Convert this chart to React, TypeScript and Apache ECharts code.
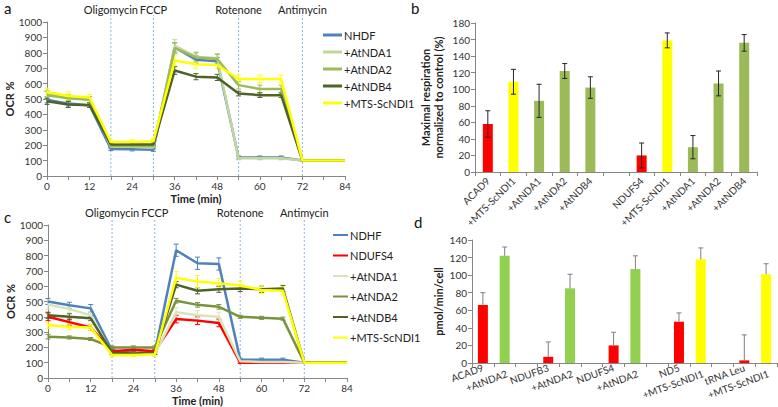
import React, { useEffect, useRef } from 'react';
import * as echarts from 'echarts';

const FONT = 'Lato';

const timePoints = [0, 6, 12, 18, 24, 30, 36, 42, 48, 54, 60, 66, 72, 78, 84];
const injectionTimes = [18, 30, 54, 72];
const injectionNames = ['Oligomycin', 'FCCP', 'Rotenone', 'Antimycin'];

// Panel a
const aNames = ['NHDF', '+AtNDA1', '+AtNDA2', '+AtNDB4', '+MTS-ScNDI1'];
const aColors = ['#4F81BD', '#C3D69B', '#9BBB59', '#4F6228', '#FFFF00'];
const aNHDF = [495, 470, 460, 175, 173, 170, 835, 755, 745, 120, 120, 120, 100, 100, 100];
const aNDA1 = [530, 510, 495, 190, 190, 185, 845, 775, 765, 115, 115, 115, 100, 100, 100];
const aNDA2 = [525, 505, 495, 195, 195, 195, 830, 770, 760, 590, 565, 565, 100, 100, 100];
const aNDB4 = [485, 465, 460, 205, 205, 205, 685, 645, 640, 535, 525, 525, 100, 100, 100];
const aMTS = [545, 520, 510, 220, 220, 225, 750, 725, 720, 630, 630, 630, 100, 100, 100];
const aErrNHDF = [20, 15, 15, 10, 10, 10, 30, 25, 25, 10, 10, 10, 0, 0, 0];
const aErrNDA1 = [25, 20, 20, 15, 15, 15, 40, 30, 30, 10, 10, 10, 0, 0, 0];
const aErrNDA2 = [25, 20, 20, 15, 15, 15, 35, 30, 30, 25, 25, 25, 0, 0, 0];
const aErrNDB4 = [20, 20, 15, 10, 10, 10, 25, 20, 20, 15, 15, 15, 0, 0, 0];
const aErrMTS = [25, 25, 20, 15, 15, 15, 30, 25, 25, 25, 25, 25, 0, 0, 0];

// Panel c
const cNames = ['NDHF', 'NDUFS4', '+AtNDA1', '+AtNDA2', '+AtNDB4', '+MTS-ScNDI1'];
const cColors = ['#4F81BD', '#FF0000', '#D7E4BD', '#77933C', '#4F6228', '#FFFF00'];
const cNDHF = [500, 475, 455, 180, 165, 165, 835, 750, 745, 120, 120, 120, 100, 100, 100];
const cNDUFS4 = [400, 365, 330, 175, 185, 175, 385, 375, 360, 100, 100, 100, 100, 100, 100];
const cNDA1 = [480, 450, 410, 160, 160, 155, 430, 410, 400, 110, 105, 105, 100, 100, 100];
const cNDA2 = [270, 265, 255, 200, 200, 200, 505, 478, 465, 400, 393, 388, 100, 100, 100];
const cNDB4 = [410, 400, 390, 165, 160, 165, 610, 570, 580, 585, 580, 585, 100, 100, 100];
const cMTS = [345, 335, 330, 150, 150, 155, 655, 630, 620, 605, 575, 570, 100, 100, 100];
const cErrNDHF = [20, 20, 25, 10, 10, 10, 40, 40, 40, 10, 10, 10, 0, 0, 0];
const cErrNDUFS4 = [25, 20, 20, 10, 10, 10, 25, 25, 25, 5, 5, 5, 0, 0, 0];
const cErrNDA1 = [30, 20, 20, 10, 10, 10, 30, 30, 30, 5, 5, 5, 0, 0, 0];
const cErrNDA2 = [15, 10, 10, 10, 10, 10, 15, 15, 15, 10, 10, 10, 0, 0, 0];
const cErrNDB4 = [20, 20, 15, 10, 10, 10, 20, 20, 20, 20, 20, 20, 0, 0, 0];
const cErrMTS = [20, 20, 20, 10, 10, 10, 40, 40, 30, 25, 25, 25, 0, 0, 0];

// Panel b
const bCategories = ['ACAD9', '+MTS-ScNDI1', '+AtNDA1', '+AtNDA2', '+AtNDB4', '', 'NDUFS4', '+MTS-ScNDI1', '+AtNDA1', '+AtNDA2', '+AtNDB4'];
const bValues = [58, 109, 86, 122, 102, null, 20, 159, 30, 107, 156];
const bErrors = [16, 15, 20, 9, 13, null, 15, 9, 14, 15, 10];
const bColors = ['#FF0000', '#FFFF00', '#9BBB59', '#9BBB59', '#9BBB59', '#FFFFFF', '#FF0000', '#FFFF00', '#9BBB59', '#9BBB59', '#9BBB59'];

// Panel d
const dCategories = ['ACAD9', '+AtNDA2', '', 'NDUFB3', '+AtNDA2', '', 'NDUFS4', '+AtNDA2', '', 'ND5', '+MTS-ScNDI1', '', 'tRNA Leu', '+MTS-ScNDI1'];
const dValues = [66, 122, null, 7, 85, null, 20, 107, null, 47, 118, null, 3, 101];
const dErrors = [14, 10, null, 17, 16, null, 15, 15, null, 10, 13, null, 29, 12];
const dColors = ['#FF0000', '#92D050', '#FFFFFF', '#FF0000', '#92D050', '#FFFFFF', '#FF0000', '#92D050', '#FFFFFF', '#FF0000', '#FFFF00', '#FFFFFF', '#FF0000', '#FFFF00'];

function errorSeries(xIdx: number, yIdx: number, points: number[][], color: string, cap: number, both: boolean, z = 5) {
  return {
    type: 'custom',
    xAxisIndex: xIdx,
    yAxisIndex: yIdx,
    data: points,
    z,
    silent: true,
    encode: { x: 0, y: [1, 2] },
    renderItem: (params: any, api: any) => {
      const x = api.value(0);
      const lo = api.value(1);
      const hi = api.value(2);
      const p1 = api.coord([x, lo]);
      const p2 = api.coord([x, hi]);
      const style = { stroke: color, lineWidth: 1 };
      const children: any[] = [
        { type: 'line', shape: { x1: p1[0], y1: p1[1], x2: p2[0], y2: p2[1] }, style },
        { type: 'line', shape: { x1: p2[0] - cap, y1: p2[1], x2: p2[0] + cap, y2: p2[1] }, style },
      ];
      if (both) {
        children.push({ type: 'line', shape: { x1: p1[0] - cap, y1: p1[1], x2: p1[0] + cap, y2: p1[1] }, style });
      }
      return { type: 'group', children };
    },
  };
}

function injectionSeries(xIdx: number, yIdx: number) {
  return {
    type: 'custom',
    xAxisIndex: xIdx,
    yAxisIndex: yIdx,
    data: injectionTimes.map((t, i) => [t, 0, i]),
    z: 1,
    silent: true,
    encode: { x: 0, y: 1 },
    renderItem: (params: any, api: any) => {
      const t = api.value(0);
      const idx = api.value(2);
      const p0 = api.coord([t, 0]);
      const p1 = api.coord([t, 1000]);
      return {
        type: 'group',
        children: [
          {
            type: 'line',
            shape: { x1: p0[0], y1: p0[1], x2: p1[0], y2: p1[1] - 7 },
            style: { stroke: '#8DB4E2', lineWidth: 1, lineDash: [2, 2] },
          },
          {
            type: 'text',
            x: p1[0],
            y: p1[1] - 13,
            style: {
              text: injectionNames[idx],
              fill: '#222',
              fontSize: 11,
              fontFamily: FONT,
              align: 'center',
              verticalAlign: 'middle',
              textAlign: 'center',
              textVerticalAlign: 'middle',
            },
          },
        ],
      };
    },
  };
}

function timeErr(vals: number[], errs: number[]) {
  const out: number[][] = [];
  timePoints.forEach((t, i) => {
    if (errs[i] > 0) out.push([t, vals[i] - errs[i], vals[i] + errs[i]]);
  });
  return out;
}

function catErr(vals: (number | null)[], errs: (number | null)[], both: boolean) {
  const out: number[][] = [];
  vals.forEach((v, i) => {
    const e = errs[i];
    if (v != null && e != null) out.push([i, both ? v - e : v, v + e]);
  });
  return out;
}

const axisLineStyle = { lineStyle: { color: '#868686', width: 1 } };
const axisLabelStyle = { color: '#333', fontSize: 10, fontFamily: FONT };
const plain = (v: number) => String(v);

function timeXAxis(gridIndex: number) {
  return {
    type: 'value',
    gridIndex,
    min: 0,
    max: 84,
    interval: 6,
    name: 'Time (min)',
    nameLocation: 'middle',
    nameGap: 17,
    nameTextStyle: { fontWeight: 'bold', fontSize: 11, color: '#222', fontFamily: FONT },
    axisLine: axisLineStyle,
    axisTick: { show: true, length: 4, lineStyle: { color: '#868686' } },
    axisLabel: { ...axisLabelStyle, margin: 5, formatter: (v: number) => (v % 12 === 0 ? String(v) : '') },
    splitLine: { show: false },
  };
}

function ocrYAxis(gridIndex: number) {
  return {
    type: 'value',
    gridIndex,
    min: 0,
    max: 1000,
    interval: 100,
    name: 'OCR %',
    nameLocation: 'middle',
    nameGap: 30,
    nameTextStyle: { fontWeight: 'bold', fontSize: 11, color: '#222', fontFamily: FONT },
    axisLine: { show: true, ...axisLineStyle },
    axisTick: { show: true, length: 4, lineStyle: { color: '#868686' } },
    axisLabel: { ...axisLabelStyle, margin: 5, formatter: plain },
    splitLine: { show: false },
  };
}

function lineSeries(name: string, color: string, vals: number[], xIdx: number, yIdx: number) {
  return {
    type: 'line',
    name,
    xAxisIndex: xIdx,
    yAxisIndex: yIdx,
    data: timePoints.map((t, i) => [t, vals[i]]),
    symbol: 'none',
    lineStyle: { color, width: 2.5 },
    itemStyle: { color },
    z: 3,
  };
}

const App: React.FC = () => {
  const ref = useRef<HTMLDivElement>(null);
  useEffect(() => {
    if (!ref.current) return;
    const chart = echarts.init(ref.current, undefined, { renderer: 'svg' });

    const aVals = [aNHDF, aNDA1, aNDA2, aNDB4, aMTS];
    const aErrs = [aErrNHDF, aErrNDA1, aErrNDA2, aErrNDB4, aErrMTS];
    const cVals = [cNDHF, cNDUFS4, cNDA1, cNDA2, cNDB4, cMTS];
    const cErrs = [cErrNDHF, cErrNDUFS4, cErrNDA1, cErrNDA2, cErrNDB4, cErrMTS];

    const series: any[] = [injectionSeries(0, 0), injectionSeries(2, 2)];
    aNames.forEach((n, i) => {
      series.push(errorSeries(0, 0, timeErr(aVals[i], aErrs[i]), aColors[i], 2.5, true, 3));
      series.push(lineSeries(n, aColors[i], aVals[i], 0, 0));
    });
    cNames.forEach((n, i) => {
      series.push(errorSeries(2, 2, timeErr(cVals[i], cErrs[i]), cColors[i], 2.5, true, 3));
      series.push(lineSeries(n, cColors[i], cVals[i], 2, 2));
    });
    series.push({
      type: 'bar',
      xAxisIndex: 1,
      yAxisIndex: 1,
      barWidth: 10,
      data: bValues.map((v, i) => ({ value: v, itemStyle: { color: bColors[i] } })),
      z: 2,
    });
    series.push(errorSeries(1, 1, catErr(bValues, bErrors, true), '#262626', 2.5, true, 6));
    series.push({
      type: 'bar',
      xAxisIndex: 3,
      yAxisIndex: 3,
      barWidth: 10,
      data: dValues.map((v, i) => ({ value: v, itemStyle: { color: dColors[i] } })),
      z: 2,
    });
    series.push(errorSeries(3, 3, catErr(dValues, dErrors, false), '#7F7F7F', 2.5, false, 6));

    const legendText = { fontSize: 11, color: '#222', fontFamily: FONT, padding: [0, 0, 0, -3], lineHeight: 14 };

    const option: any = {
      animation: false,
      backgroundColor: '#ffffff',
      textStyle: { fontFamily: FONT },
      grid: [
        { left: 47, top: 22, width: 298, height: 154 },
        { left: 475, top: 23, width: 282, height: 149 },
        { left: 48, top: 225, width: 299, height: 153 },
        { left: 472, top: 240, width: 305, height: 123 },
      ],
      xAxis: [
        timeXAxis(0),
        {
          type: 'category',
          gridIndex: 1,
          data: bCategories,
          axisLine: axisLineStyle,
          axisTick: { show: true, interval: 0, length: 4, lineStyle: { color: '#868686' } },
          axisLabel: { ...axisLabelStyle, interval: 0, rotate: 45, margin: 7 },
        },
        timeXAxis(2),
        {
          type: 'category',
          gridIndex: 3,
          data: dCategories,
          axisLine: axisLineStyle,
          axisTick: { show: true, interval: 0, length: 4, lineStyle: { color: '#868686' } },
          axisLabel: {
            ...axisLabelStyle,
            interval: 0,
            rotate: 20,
            margin: 4,
            lineHeight: 13,
            formatter: (v: string, i: number) => (i % 3 === 1 ? '\n' + v : v),
          },
        },
      ],
      yAxis: [
        ocrYAxis(0),
        {
          type: 'value',
          gridIndex: 1,
          min: 0,
          max: 180,
          interval: 20,
          name: 'Maximal respiration\nnormalized to control (%)',
          nameLocation: 'middle',
          nameGap: 30,
          nameTextStyle: { fontWeight: 'bold', fontSize: 11, color: '#222', fontFamily: FONT, lineHeight: 13 },
          axisLine: { show: true, ...axisLineStyle },
          axisTick: { show: true, length: 4, lineStyle: { color: '#868686' } },
          axisLabel: { ...axisLabelStyle, margin: 5, formatter: plain },
          splitLine: { show: false },
        },
        ocrYAxis(2),
        {
          type: 'value',
          gridIndex: 3,
          min: 0,
          max: 140,
          interval: 20,
          name: 'pmol/min/cell',
          nameLocation: 'middle',
          nameGap: 28,
          nameTextStyle: { fontWeight: 'bold', fontSize: 11, color: '#222', fontFamily: FONT },
          axisLine: { show: true, ...axisLineStyle },
          axisTick: { show: true, length: 4, lineStyle: { color: '#868686' } },
          axisLabel: { ...axisLabelStyle, margin: 5, formatter: plain },
          splitLine: { show: false },
        },
      ],
      legend: [
        {
          left: 318,
          top: 23,
          orient: 'vertical',
          icon: 'rect',
          itemWidth: 19,
          itemHeight: 3,
          itemGap: 3,
          selectedMode: false,
          textStyle: legendText,
          data: aNames.map((n, i) => ({ name: n, itemStyle: { color: aColors[i] } })),
        },
        {
          left: 328,
          top: 223,
          orient: 'vertical',
          icon: 'rect',
          itemWidth: 15,
          itemHeight: 2,
          itemGap: 6.5,
          selectedMode: false,
          textStyle: legendText,
          data: cNames.map((n, i) => ({ name: n, itemStyle: { color: cColors[i] } })),
        },
      ],
      graphic: [
        { type: 'text', left: 4, top: 0, style: { text: 'a', fontSize: 15, fill: '#111', fontFamily: FONT } },
        { type: 'text', left: 411, top: 0, style: { text: 'b', fontSize: 15, fill: '#111', fontFamily: FONT } },
        { type: 'text', left: 4, top: 209, style: { text: 'c', fontSize: 15, fill: '#111', fontFamily: FONT } },
        { type: 'text', left: 414, top: 214, style: { text: 'd', fontSize: 15, fill: '#111', fontFamily: FONT } },
      ],
      series,
    };
    chart.setOption(option);
    return () => chart.dispose();
  }, []);
  return <div ref={ref} style={{ position: 'fixed', left: 0, top: 0, width: 778, height: 407, background: '#fff' }} />;
};

export default App;
